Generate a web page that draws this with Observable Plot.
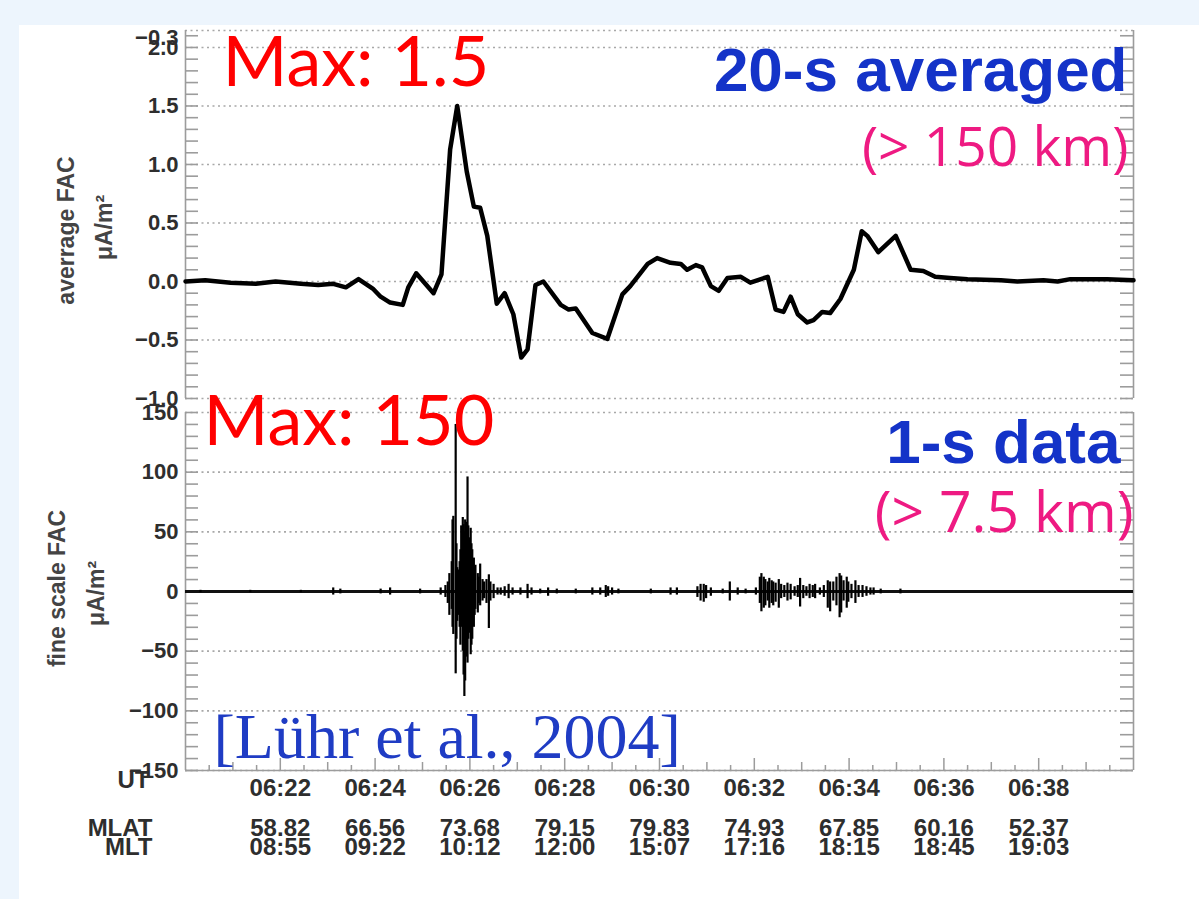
<!DOCTYPE html>
<html>
<head>
<meta charset="utf-8">
<script src="https://cdn.jsdelivr.net/npm/d3@7"></script>
<script src="https://cdn.jsdelivr.net/npm/@observablehq/plot@0.6"></script>
<style>
  html, body { margin:0; padding:0; width:1199px; height:899px; overflow:hidden; background:#edf5fd; }
  #panel { position:absolute; left:19px; top:25px; right:0; bottom:0; background:#ffffff; }
  #top { position:absolute; left:0; top:0; }
  #bot { position:absolute; left:0; top:380px; }
  svg { overflow: visible; }
</style>
</head>
<body>
<div id="panel"></div>
<div id="top"></div>
<div id="bot"></div>
<script>
// ---------- data ----------
// 20-s averaged FAC: seconds after 06:20:00 UT and value (µA/m²)
const avgSec = [0,25,57,89,114,146,168,187,203,219,237,247,259,275,282,292,314,324,335,344,356,365,373,382,394,404,415,425,433,443,453,475,485,494,515,534,553,563,585,597,614,627,635,646,654,665,675,686,703,715,737,747,757,766,775,787,795,806,816,829,846,856,863,877,899,918,934,949,968,990,1032,1053,1086,1104,1120,1167,1200];
const avgFAC = [0.0,0.01,-0.01,-0.02,0.0,-0.02,-0.03,-0.02,-0.05,0.02,-0.06,-0.13,-0.18,-0.2,-0.05,0.07,-0.1,0.06,1.13,1.5,0.94,0.64,0.63,0.39,-0.19,-0.1,-0.28,-0.65,-0.58,-0.03,0.0,-0.2,-0.24,-0.23,-0.44,-0.49,-0.11,-0.04,0.15,0.2,0.16,0.15,0.1,0.14,0.12,-0.04,-0.08,0.03,0.04,-0.01,0.04,-0.24,-0.26,-0.13,-0.28,-0.35,-0.33,-0.26,-0.27,-0.15,0.1,0.43,0.39,0.25,0.39,0.1,0.09,0.04,0.03,0.02,0.01,0.0,0.01,0.0,0.02,0.02,0.01];

// 1-s fine scale FAC: envelope of spikes (seconds after 06:20:00, min, max in µA/m²)
const fineSec = [19,82,146,187,196,247,259,297,323,329,332,334,337,338,339,342,343,344,346,347,348,349,351,352,353,354,356,357,358,359,361,362,363,365,366,367,370,371,373,376,378,381,384,386,390,395,399,404,409,414,424,433,438,449,459,470,494,515,525,532,535,540,548,589,614,622,648,652,656,659,665,680,689,699,709,722,727,729,732,734,737,739,742,744,747,751,754,758,762,766,771,775,778,782,786,790,794,797,803,808,813,816,820,824,828,830,833,837,839,843,848,852,857,862,867,871,880,905];
const fineLo  = [-1,-1,-1,-3,-2,-2,-3,-2,-3,-5,-10,-20,-15,-30,-36,-69,-40,-25,-20,-30,-45,-30,-50,-70,-88,-75,-55,-60,-40,-35,-53,-45,-40,-30,-20,-15,-18,-10,-12,-8,-6,-10,-31,-8,-6,-3,-3,-4,-6,-3,-3,-6,-3,-2,-4,-2,-2,-3,-3,-5,-4,-3,-2,-2,-3,-3,-5,-8,-9,-6,-4,-2,-8,-3,-2,-3,-10,-17,-14,-12,-8,-14,-10,-12,-9,-14,-6,-5,-8,-7,-4,-5,-13,-6,-4,-6,-5,-6,-3,-5,-14,-17,-8,-12,-22,-18,-8,-14,-9,-6,-10,-5,-5,-4,-3,-3,-2,-2];
const fineHi  = [1,1,1,3,2,2,3,2,3,5,8,15,25,60,63,140,40,20,18,25,35,55,62,56,50,60,58,96,55,45,53,40,35,28,20,22,15,12,23,10,8,10,14,8,6,3,3,4,6,3,3,6,3,2,3,2,2,3,3,5,4,3,2,2,3,3,4,6,6,5,3,2,8,3,2,3,12,15,12,10,8,11,9,8,7,10,6,5,7,6,4,5,11,5,4,6,5,6,3,5,9,8,8,12,15,13,9,12,8,6,9,5,5,4,3,3,2,2];

// axis tick labels
const utTicks  = ["06:22","06:24","06:26","06:28","06:30","06:32","06:34","06:36","06:38"];
const mlatTicks = ["58.82","66.56","73.68","79.15","79.83","74.93","67.85","60.16","52.37"];
const mltTicks  = ["08:55","09:22","10:12","12:00","15:07","17:16","18:15","18:45","19:03"];
const topYTicks = [-1.0,-0.5,0.0,0.5,1.0,1.5,2.0];
const botYTicks = [-150,-100,-50,0,50,100,150];

// ---------- helpers ----------
const T = s => new Date(Date.UTC(2004, 0, 1, 6, 20, s));
const parseUT = str => { const [h,m] = str.split(":").map(Number); return new Date(Date.UTC(2004,0,1,h,m,0)); };
const xDomain = [T(0), T(1200)];
const W = 1199, ML = 185, MR = 66;
const plotW = W - ML - MR;
const axisFont = "'Liberation Sans', Arial, sans-serif";
const gray = "#9c9c9c";
const labelColor = "#2e2e2e";

const avgData = avgSec.map((s, i) => ({t: T(s), v: avgFAC[i]}));
const fineData = fineSec.map((s, i) => ({t: T(s), lo: fineLo[i], hi: fineHi[i]}));

const utDates = utTicks.map(parseUT);
const mlatMap = new Map(utTicks.map((u, i) => [u, mlatTicks[i]]));
const mltMap = new Map(utTicks.map((u, i) => [u, mltTicks[i]]));
const fmtUT = d3.utcFormat("%H:%M");

const x30 = d3.utcSecond.every(30).range(T(30), T(1200));
const xShort = x30.filter(d => d.getUTCSeconds() === 30);
const xMin = x30.filter(d => d.getUTCSeconds() === 0 && d.getUTCMinutes() % 2 === 1);
const xMaj = x30.filter(d => d.getUTCSeconds() === 0 && d.getUTCMinutes() % 2 === 0);

const topTop = 2.145;
const topMinor = d3.range(-10, 22).map(k => k / 10);
const botMinor = d3.range(-15, 16).map(k => k * 10);

const styleBase = {background: "transparent", overflow: "visible", fontFamily: axisFont};
const futura = "Lato, 'Open Sans', sans-serif";
const calibri = "'Open Sans', Lato, sans-serif";

// ---------- top panel: 20-s averaged ----------
const topH = 400, topMT = 30, topMB = 2;
const topPlot = Plot.plot({
  width: W, height: topH, marginLeft: ML, marginRight: MR, marginTop: topMT, marginBottom: topMB,
  style: styleBase,
  x: {type: "utc", domain: xDomain, axis: null},
  y: {domain: [-1, topTop], axis: null},
  marks: [
    Plot.gridY([...topYTicks, topTop], {stroke: "#a8a8a8", strokeOpacity: 1, strokeWidth: 1.6, strokeDasharray: "2,3.5"}),
    Plot.tickY(topMinor, {y: d => d, stroke: gray, strokeWidth: 1.6, insetRight: plotW - 13}),
    Plot.tickY(topMinor, {y: d => d, stroke: gray, strokeWidth: 1.6, insetLeft: plotW - 13}),
    Plot.ruleX(xDomain, {stroke: gray, strokeWidth: 1.6}),
    Plot.axisY(topYTicks, {tickSize: 0, tickPadding: 7, fontSize: 22, fontWeight: "bold", fill: labelColor, label: null, tickFormat: d3.format(".1f")}),
    Plot.text(["\u22120.3"], {frameAnchor: "top-left", text: d => d, dx: -7, dy: -1, textAnchor: "end", lineAnchor: "top", fontSize: 22, fontWeight: "bold", fill: labelColor}),
    Plot.text(["averrage FAC"], {frameAnchor: "left", text: d => d, rotate: -90, dx: -119, dy: 16, textAnchor: "middle", lineAnchor: "middle", fontSize: 23, fontWeight: "bold", fill: "#444"}),
    Plot.text(["\u03bcA/m\u00b2"], {frameAnchor: "left", text: d => d, rotate: -90, dx: -81, dy: 13, textAnchor: "middle", lineAnchor: "middle", fontSize: 23, fontWeight: "bold", fill: "#444"}),
    Plot.line(avgData, {x: "t", y: "v", stroke: "#000", strokeWidth: 4.5, strokeLinejoin: "round", strokeLinecap: "round"}),
    Plot.text(["Max: 1.5"], {frameAnchor: "top-left", text: d => d, dx: 37, dy: 33, textAnchor: "start", lineAnchor: "middle", fontSize: 70, fontFamily: futura, fill: "#ff0000"}),
    Plot.text(["20-s averaged"], {frameAnchor: "top-right", text: d => d, dx: -6, dy: 41, textAnchor: "end", lineAnchor: "middle", fontSize: 62, fontWeight: "bold", fontFamily: axisFont, fill: "#1433c8"}),
    Plot.text(["(> 150 km)"], {frameAnchor: "top-right", text: d => d, dx: -5, dy: 118, textAnchor: "end", lineAnchor: "middle", fontSize: 55, fontFamily: calibri, fill: "#ee1a82"})
  ]
});
document.getElementById("top").appendChild(topPlot);

// ---------- bottom panel: 1-s data ----------
const botH = 519, botMT = 32, botMB = 129;
const botPH = botH - botMT - botMB;
const botPlot = Plot.plot({
  width: W, height: botH, marginLeft: ML, marginRight: MR, marginTop: botMT, marginBottom: botMB,
  style: styleBase,
  x: {type: "utc", domain: xDomain, axis: null},
  y: {domain: [-150, 150], axis: null},
  marks: [
    Plot.gridY(botYTicks, {stroke: "#a8a8a8", strokeOpacity: 1, strokeWidth: 1.6, strokeDasharray: "2,3.5"}),
    Plot.tickY(botMinor, {y: d => d, stroke: gray, strokeWidth: 1.6, insetRight: plotW - 13}),
    Plot.tickY(botMinor, {y: d => d, stroke: gray, strokeWidth: 1.6, insetLeft: plotW - 13}),
    Plot.tickX(xShort, {x: d => d, stroke: gray, strokeWidth: 1.5, insetTop: botPH - 5}),
    Plot.tickX(xMin, {x: d => d, stroke: gray, strokeWidth: 1.5, insetTop: botPH - 8}),
    Plot.tickX(xMaj, {x: d => d, stroke: gray, strokeWidth: 1.5, insetTop: botPH - 12}),
    Plot.ruleX(xDomain, {stroke: gray, strokeWidth: 1.6}),
    Plot.ruleY([-150], {stroke: gray, strokeWidth: 1.6}),
    Plot.axisY(botYTicks, {tickSize: 0, tickPadding: 7, fontSize: 22, fontWeight: "bold", fill: labelColor, label: null}),
    Plot.axisX(utDates, {tickSize: 0, tickPadding: 8, fontSize: 24, fontWeight: "bold", fill: labelColor, label: null, tickFormat: d => fmtUT(d)}),
    Plot.axisX(utDates, {tickSize: 0, tickPadding: 8, dy: 40, fontSize: 24, fontWeight: "bold", fill: labelColor, label: null, tickFormat: d => mlatMap.get(fmtUT(d))}),
    Plot.axisX(utDates, {tickSize: 0, tickPadding: 8, dy: 59, fontSize: 24, fontWeight: "bold", fill: labelColor, label: null, tickFormat: d => mltMap.get(fmtUT(d))}),
    Plot.text(["UT"], {frameAnchor: "bottom-left", text: d => d, dx: -36, dy: 0, textAnchor: "end", lineAnchor: "top", fontSize: 24, fontWeight: "bold", fill: labelColor}),
    Plot.text(["MLAT"], {frameAnchor: "bottom-left", text: d => d, dx: -33, dy: 48, textAnchor: "end", lineAnchor: "top", fontSize: 24, fontWeight: "bold", fill: labelColor}),
    Plot.text(["MLT"], {frameAnchor: "bottom-left", text: d => d, dx: -33, dy: 67, textAnchor: "end", lineAnchor: "top", fontSize: 24, fontWeight: "bold", fill: labelColor}),
    Plot.text(["fine scale FAC"], {frameAnchor: "left", text: d => d, rotate: -90, dx: -128, dy: -3, textAnchor: "middle", lineAnchor: "middle", fontSize: 23, fontWeight: "bold", fill: "#444"}),
    Plot.text(["\u03bcA/m\u00b2"], {frameAnchor: "left", text: d => d, rotate: -90, dx: -89, dy: 2, textAnchor: "middle", lineAnchor: "middle", fontSize: 23, fontWeight: "bold", fill: "#444"}),
    Plot.ruleY([0], {stroke: "#111", strokeWidth: 2.8}),
    Plot.ruleX(fineData, {x: "t", y1: "lo", y2: "hi", stroke: "#000", strokeWidth: 2.2}),
    Plot.text(["Max: 150"], {frameAnchor: "top-left", text: d => d, dx: 18, dy: 10, textAnchor: "start", lineAnchor: "middle", fontSize: 70, fontFamily: futura, fill: "#ff0000"}),
    Plot.text(["1-s data"], {frameAnchor: "top-right", text: d => d, dx: -13, dy: 31, textAnchor: "end", lineAnchor: "middle", fontSize: 62, fontWeight: "bold", fontFamily: axisFont, fill: "#1433c8"}),
    Plot.text(["(> 7.5 km)"], {frameAnchor: "top-right", text: d => d, dx: 0, dy: 101, textAnchor: "end", lineAnchor: "middle", fontSize: 57, fontFamily: calibri, fill: "#ee1a82"}),
    Plot.text(["[L\u00fchr et al., 2004]"], {frameAnchor: "bottom-left", text: d => d, dx: 28, dy: -33, textAnchor: "start", lineAnchor: "middle", fontSize: 64, fontFamily: "'Liberation Serif', 'Times New Roman', serif", fill: "#1f3cc4"})
  ]
});
document.getElementById("bot").appendChild(botPlot);
</script>
</body>
</html>
